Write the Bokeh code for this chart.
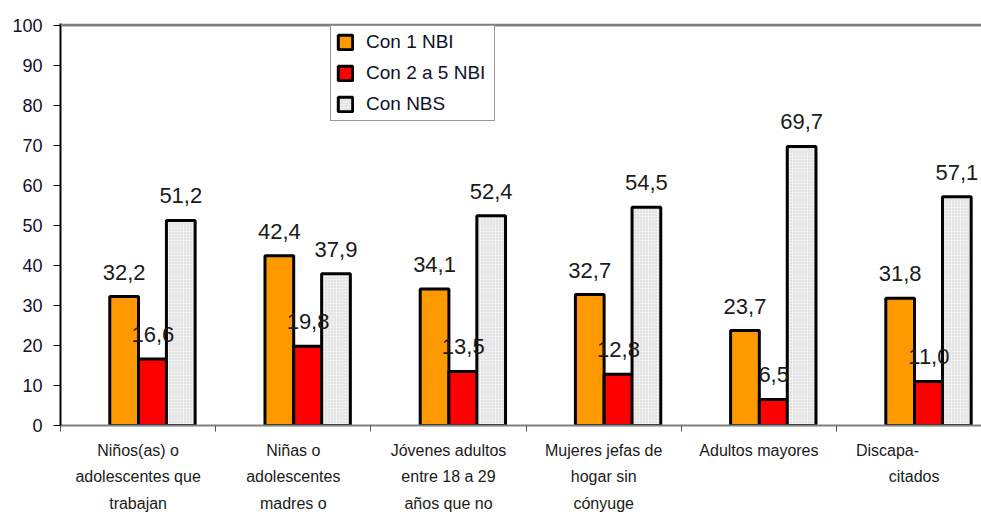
from bokeh.plotting import figure
from bokeh.models import (ColumnDataSource, FixedTicker, LabelSet, Legend, LegendItem, Span)
from bokeh.core.properties import value
from bokeh.embed import file_html
from bokeh.resources import INLINE

categories = [
    "Niños(as) o\nadolescentes que\ntrabajan",
    "Niñas o\nadolescentes\nmadres o",
    "Jóvenes adultos\nentre 18 a 29\naños que no",
    "Mujeres jefas de\nhogar sin\ncónyuge",
    "Adultos mayores",
    "Discapa-\u00a0\u00a0\u00a0\u00a0\u00a0\u00a0\u00a0\u00a0\u00a0\u00a0\u00a0\u00a0\ncitados",
]
series_names = ["Con 1 NBI", "Con 2 a 5 NBI", "Con NBS"]
con_1_nbi = [32.2, 42.4, 34.1, 32.7, 23.7, 31.8]
con_2_5_nbi = [16.6, 19.8, 13.5, 12.8, 6.5, 11.0]
con_nbs = [51.2, 37.9, 52.4, 54.5, 69.7, 57.1]
y_ticks = [0, 10, 20, 30, 40, 50, 60, 70, 80, 90, 100]

series_values = [con_1_nbi, con_2_5_nbi, con_nbs]
colors = ["#FF9900", "#FF0000", "#EFEFEF"]
offsets = [0.41, 0.595, 0.775]
bar_w = 0.185

FONT = "Liberation Sans"

p = figure(width=981, height=515, x_range=(0, 5.934), y_range=(0, 100.4),
           output_backend="svg", toolbar_location=None,
           min_border_left=60, min_border_right=0, min_border_top=23, min_border_bottom=90)
p.xgrid.visible = False
p.ygrid.visible = False
p.outline_line_color = None
p.background_fill_color = "white"
p.border_fill_color = "white"

renderers = []
n = len(con_1_nbi)
for k, (vals, col, off) in enumerate(zip(series_values, colors, offsets)):
    src = ColumnDataSource(dict(
        x=[i + off for i in range(n)],
        top=vals,
        lbl=[f"{v:.1f}".replace(".", ",") for v in vals],
    ))
    kw = {}
    if k == 2:
        kw = dict(hatch_pattern="dot", hatch_scale=3, hatch_color="#CFCFCF", hatch_weight=1)
    r = p.vbar(x="x", top="top", bottom=0, width=bar_w, source=src,
               fill_color=col, line_color="black", line_width=3, **kw)
    renderers.append(r)
    p.add_layout(LabelSet(x="x", y="top", text="lbl", source=src, y_offset=17,
                          text_align="center", text_baseline="alphabetic",
                          text_font=value(FONT), text_font_size=value("22px"),
                          text_color="#1a1a1a"))

# top border line
p.add_layout(Span(location=100, dimension="width", line_color="#808080", line_width=3))

# y axis
p.yaxis.ticker = FixedTicker(ticks=y_ticks, minor_ticks=[])
p.yaxis.axis_line_color = "black"
p.yaxis.axis_line_width = 2
p.yaxis.major_tick_out = 7
p.yaxis.major_tick_in = 0
p.yaxis.major_tick_line_color = "black"
p.yaxis.major_label_standoff = 11
p.yaxis.major_label_text_font = FONT
p.yaxis.major_label_text_font_size = "18px"
p.yaxis.major_label_text_color = "#10102a"

# x axis
centers = [i + 0.5 for i in range(n)]
p.xaxis.ticker = FixedTicker(ticks=centers, minor_ticks=list(range(n + 1)))
p.xaxis.major_label_overrides = {c: lab for c, lab in zip(centers, categories)}
p.xaxis.axis_line_color = "#808080"
p.xaxis.axis_line_width = 2
p.xaxis.major_tick_out = 0
p.xaxis.major_tick_in = 0
p.xaxis.minor_tick_out = 6
p.xaxis.minor_tick_in = 0
p.xaxis.minor_tick_line_color = "#555555"
p.xaxis.minor_tick_line_width = 1
p.xaxis.major_label_standoff = 10
p.xaxis.major_label_text_font = FONT
p.xaxis.major_label_text_font_size = "16px"
p.xaxis.major_label_text_line_height = 1.58
p.xaxis.major_label_text_color = "#1a1a1a"

legend = Legend(items=[LegendItem(label=nm, renderers=[r]) for nm, r in zip(series_names, renderers)],
                location=(270, 304), orientation="vertical",
                glyph_width=18, glyph_height=18, label_height=18, label_width=123,
                spacing=9, padding=5, label_standoff=12, margin=0,
                label_text_font=FONT, label_text_font_size="19px", label_text_color="#10102a",
                border_line_color="#333333", border_line_width=1,
                background_fill_color="white", background_fill_alpha=1.0)
p.add_layout(legend)

open("out.html", "w").write(file_html(p, INLINE))
